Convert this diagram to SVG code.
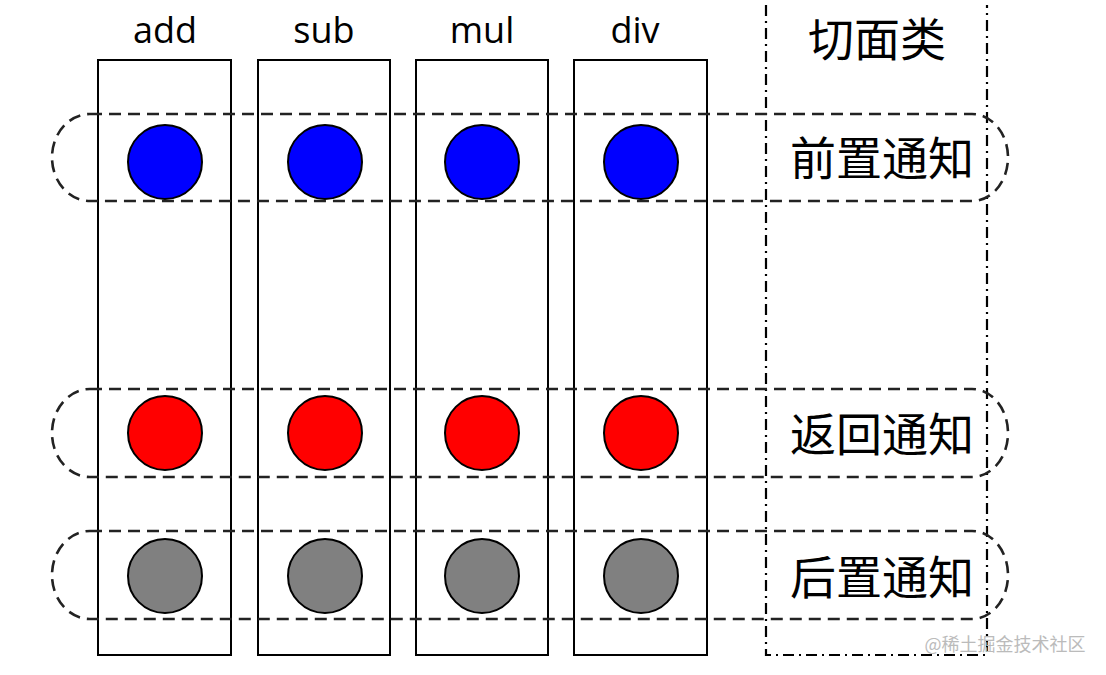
<svg xmlns="http://www.w3.org/2000/svg" width="1106" height="675" viewBox="0 0 1106 675">
<style>
.col{fill:none;stroke:#000;stroke-width:2}
.dot{stroke:#000;stroke-width:2}
.cap{fill:none;stroke:#222;stroke-width:2.6;stroke-dasharray:12 7}
.lbl{font-family:"Open Sans","Noto Sans",sans-serif;font-size:36px;fill:#000;text-anchor:middle}
.cn{font-family:"Noto Sans CJK SC",sans-serif;font-size:46px;fill:#000;text-anchor:middle}
</style>
<rect width="1106" height="675" fill="#fff"/>
<g id="aspect-frame">
<path d="M766,5 V655 H987 V5" fill="none" stroke="#000" stroke-width="2.2" stroke-dasharray="11 5 2 5"/>
<text class="cn" x="877" y="56">切面类</text>
</g>
<g id="col-add"><rect class="col" x="98" y="60" width="133" height="595"/><text class="lbl" x="165" y="43">add</text></g>
<g id="col-sub"><rect class="col" x="258" y="60" width="132" height="595"/><text class="lbl" x="324" y="43">sub</text></g>
<g id="col-mul"><rect class="col" x="416" y="60" width="132" height="595"/><text class="lbl" x="482" y="43">mul</text></g>
<g id="col-div"><rect class="col" x="574" y="60" width="133" height="595"/><text class="lbl" x="635" y="43">div</text></g>
<g id="before">
<path class="cap" d="M90,114 H972 A36,43.5 0 0 1 972,201 H90 A38,43.5 0 0 1 90,114 Z"/>
<circle class="dot" cx="165" cy="162" r="37" fill="#0000ff"/>
<circle class="dot" cx="325" cy="162" r="37" fill="#0000ff"/>
<circle class="dot" cx="482" cy="162" r="37" fill="#0000ff"/>
<circle class="dot" cx="641" cy="162" r="37" fill="#0000ff"/>
<text class="cn" x="882" y="175">前置通知</text>
</g>
<g id="return">
<path class="cap" d="M90,389 H972 A36,44 0 0 1 972,477 H90 A38,44 0 0 1 90,389 Z"/>
<circle class="dot" cx="165" cy="433" r="37" fill="#ff0000"/>
<circle class="dot" cx="325" cy="433" r="37" fill="#ff0000"/>
<circle class="dot" cx="482" cy="433" r="37" fill="#ff0000"/>
<circle class="dot" cx="641" cy="433" r="37" fill="#ff0000"/>
<text class="cn" x="882" y="451">返回通知</text>
</g>
<g id="after">
<path class="cap" d="M90,531 H972 A36,44 0 0 1 972,619 H90 A38,44 0 0 1 90,531 Z"/>
<circle class="dot" cx="165" cy="576" r="37" fill="#808080"/>
<circle class="dot" cx="325" cy="576" r="37" fill="#808080"/>
<circle class="dot" cx="482" cy="576" r="37" fill="#808080"/>
<circle class="dot" cx="641" cy="576" r="37" fill="#808080"/>
<text class="cn" x="882" y="594">后置通知</text>
</g>
<text x="1005" y="651" font-family="Noto Sans CJK SC,sans-serif" font-size="18" fill="#bbb" text-anchor="middle">@稀土掘金技术社区</text>
</svg>
